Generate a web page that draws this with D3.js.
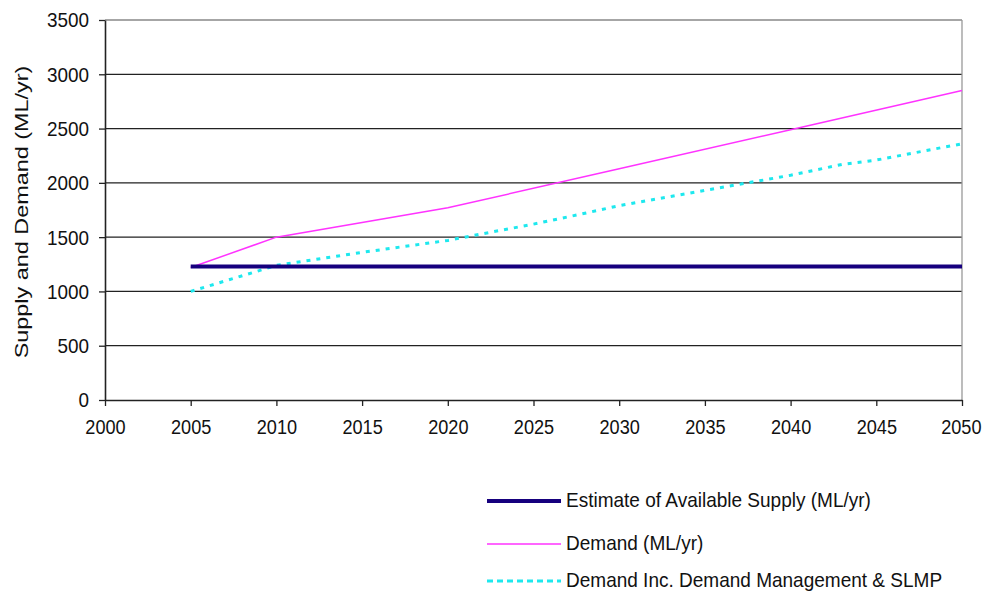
<!DOCTYPE html>
<html>
<head>
<meta charset="utf-8">
<script src="https://cdn.jsdelivr.net/npm/d3@7"></script>
<style>
  html, body { margin: 0; padding: 0; background: #fff; }
  svg { display: block; font-family: "Liberation Sans", Arial, sans-serif; }
</style>
</head>
<body>
<svg id="chart" width="984" height="595"></svg>
<script>
// Supply vs demand projections, ML per year
const supplyYears = [2005, 2050];
const supplyValues = [1230, 1230];

const demandYears = [2005, 2010, 2020, 2030, 2040, 2050];
const demandValues = [1220, 1500, 1770, 2130, 2490, 2850];

const dmYears = [2005, 2010, 2015, 2020, 2025, 2028, 2030, 2035, 2040, 2043, 2045, 2050];
const dmValues = [1000, 1240, 1360, 1470, 1620, 1720, 1790, 1930, 2070, 2170, 2210, 2360];

const xTicks = [2000, 2005, 2010, 2015, 2020, 2025, 2030, 2035, 2040, 2045, 2050];
const yTicks = [0, 500, 1000, 1500, 2000, 2500, 3000, 3500];

const seriesNames = [
  "Estimate of Available Supply (ML/yr)",
  "Demand (ML/yr)",
  "Demand Inc. Demand Management & SLMP"
];
const yTitle = "Supply and Demand (ML/yr)";

const svg = d3.select("#chart");
const plotL = 105, plotR = 962, plotT = 20, plotB = 400;

const x = d3.scaleLinear().domain([2000, 2050]).range([plotL, plotR]);
const y = d3.scaleLinear().domain([0, 3500]).range([plotB, plotT]);

// squeeze or stretch a text run along its own direction
function fitText(sel, factor) {
  sel.each(function () {
    const w = this.getComputedTextLength();
    d3.select(this).attr("textLength", w * factor).attr("lengthAdjust", "spacingAndGlyphs");
  });
}

// horizontal gridlines
svg.append("g").selectAll("line").data(yTicks.filter(d => d > 0)).join("line")
  .attr("x1", plotL).attr("x2", plotR)
  .attr("y1", d => y(d)).attr("y2", d => y(d))
  .attr("stroke", d => d === 3500 ? "#888" : "#222")
  .attr("stroke-width", 1.3);

// right border
svg.append("line").attr("x1", plotR).attr("x2", plotR).attr("y1", plotT).attr("y2", plotB)
  .attr("stroke", "#999").attr("stroke-width", 1.3);

// axes
const yAxis = d3.axisLeft(y).tickValues(yTicks).tickSize(6).tickSizeOuter(0).tickFormat(d3.format("d"));
const gy = svg.append("g").attr("transform", `translate(${plotL},0)`).call(yAxis);
const xAxis = d3.axisBottom(x).tickValues(xTicks).tickSize(6).tickSizeOuter(0).tickFormat(d3.format("d"));
const gx = svg.append("g").attr("transform", `translate(0,${plotB})`).call(xAxis);

[gx, gy].forEach(g => {
  g.select(".domain").attr("stroke", "#222").attr("stroke-width", 1.6);
  g.selectAll(".tick line").attr("stroke", "#222").attr("stroke-width", 1.3);
  g.selectAll(".tick text").attr("fill", "#111")
    .attr("font-family", "'Liberation Sans', Arial, sans-serif");
});
gy.selectAll(".tick text").attr("font-size", 21).attr("x", -16).attr("dy", "0.33em");
gx.selectAll(".tick text").attr("font-size", 19.5).attr("y", 34).attr("dy", 0);
// keep the last year label inside the right edge
gx.selectAll(".tick text").filter(d => d === 2050)
  .attr("text-anchor", "end").attr("x", 19);
fitText(gy.selectAll(".tick text"), 0.9);
fitText(gx.selectAll(".tick text"), 0.93);

// y axis title
const title = svg.append("text")
  .attr("transform", `translate(28,${(plotT + plotB) / 2 + 2}) rotate(-90)`)
  .attr("text-anchor", "middle")
  .attr("font-size", 18).attr("fill", "#111")
  .text(yTitle);
fitText(title, 1.3);

const line = d3.line().x(d => x(d[0])).y(d => y(d[1]));

const styles = [
  { color: "#16007e", width: 4, dash: null },
  { color: "#ff33ff", width: 1.5, dash: null },
  { color: "#1ee8ee", width: 3, dash: "4,6" }
];

const series = [
  d3.zip(supplyYears, supplyValues),
  d3.zip(demandYears, demandValues),
  d3.zip(dmYears, dmValues)
];

// draw supply last so it sits on top
[2, 1, 0].forEach(i => {
  svg.append("path").datum(series[i])
    .attr("d", line)
    .attr("fill", "none")
    .attr("stroke", styles[i].color)
    .attr("stroke-width", styles[i].width)
    .attr("stroke-dasharray", styles[i].dash);
});

// legend
const legendY = [501, 544, 581];
const lg = svg.append("g");
seriesNames.forEach((name, i) => {
  lg.append("line")
    .attr("x1", 487).attr("x2", 561)
    .attr("y1", legendY[i]).attr("y2", legendY[i])
    .attr("stroke", styles[i].color)
    .attr("stroke-width", styles[i].width)
    .attr("stroke-dasharray", i === 2 ? "6,4" : null);
  const t = lg.append("text")
    .attr("x", 566).attr("y", legendY[i] + 6)
    .attr("font-size", 21).attr("fill", "#111")
    .text(name);
  fitText(t, 0.905);
});
</script>
</body>
</html>
